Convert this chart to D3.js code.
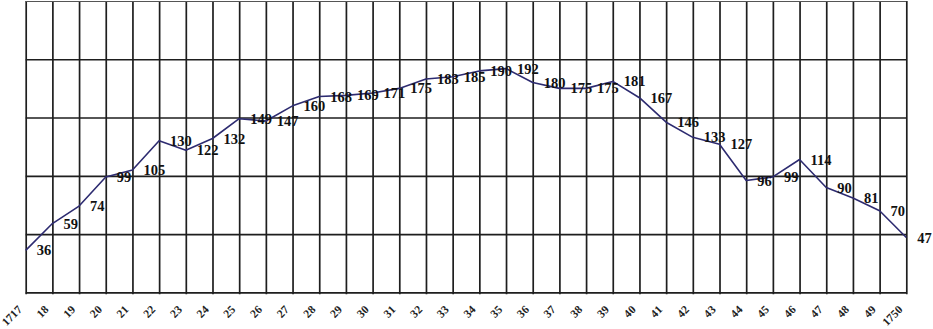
<!DOCTYPE html>
<html>
<head>
<meta charset="utf-8">
<script src="https://cdn.jsdelivr.net/npm/d3@7/dist/d3.min.js"></script>
<style>
  body { margin: 0; background: #fff; }
  svg { display: block; }
</style>
</head>
<body>
<svg id="chart" width="933" height="329"></svg>
<script>
// data
const years = [1717, 1718, 1719, 1720, 1721, 1722, 1723, 1724, 1725, 1726, 1727, 1728,
    1729, 1730, 1731, 1732, 1733, 1734, 1735, 1736, 1737, 1738, 1739, 1740, 1741,
    1742, 1743, 1744, 1745, 1746, 1747, 1748, 1749, 1750];
const tickLabels = ["1717", "18", "19", "20", "21", "22", "23", "24", "25", "26", "27", "28",
    "29", "30", "31", "32", "33", "34", "35", "36", "37", "38", "39", "40", "41",
    "42", "43", "44", "45", "46", "47", "48", "49", "1750"];
const values = [36, 59, 74, 99, 105, 130, 122, 132, 149, 147, 160, 168,
    169, 171, 175, 183, 185, 190, 192, 180, 175, 175, 181, 167, 146,
    133, 127, 96, 99, 114, 90, 81, 70, 47];
const yTicks = [0, 50, 100, 150, 200, 250];

const svg = d3.select("#chart");
const plotLeft = 25.7, plotRight = 906.3, plotTop = 1, plotBottom = 292.3;

// scales
const xScale = d3.scalePoint().domain(years).range([plotLeft, plotRight]);
const yScale = d3.scaleLinear().domain([0, 250]).range([plotBottom, plotTop]);

// vertical grid (one line per year, a bit below the bottom line like ticks)
svg.append("g")
    .attr("class", "grid-x")
    .attr("transform", `translate(0, ${plotBottom})`)
    .call(d3.axisBottom(xScale)
        .tickSize(-(plotBottom - plotTop))
        .tickSizeOuter(0)
        .tickFormat(""))
    .call(g => g.select(".domain").remove())
    .call(g => g.selectAll(".tick line")
        .attr("y1", 2)
        .attr("stroke", "#1e1e1e")
        .attr("stroke-width", 1.7));

// horizontal grid
svg.append("g")
    .attr("class", "grid-y")
    .attr("transform", `translate(${plotLeft}, 0)`)
    .call(d3.axisLeft(yScale)
        .tickValues(yTicks)
        .tickSize(-(plotRight - plotLeft))
        .tickSizeOuter(0)
        .tickFormat(""))
    .call(g => g.select(".domain").remove())
    .call(g => g.selectAll(".tick line")
        .attr("stroke", d => d === 250 ? "#555" : "#1e1e1e")
        .attr("stroke-width", d => d === 250 ? 1 : 1.7));

// year labels, rotated
svg.append("g")
    .selectAll("text")
    .data(years)
    .enter()
    .append("text")
    .attr("transform", d => `translate(${xScale(d) - 3}, ${plotBottom + 18}) rotate(-45)`)
    .attr("text-anchor", "end")
    .attr("font-family", "Liberation Serif, Times New Roman, serif")
    .attr("font-size", 11.5)
    .attr("font-weight", "bold")
    .attr("fill", "#222")
    .text((d, i) => tickLabels[i]);

// the line
const line = d3.line()
    .x((d, i) => xScale(years[i]))
    .y(d => yScale(d));

svg.append("path")
    .datum(values)
    .attr("fill", "none")
    .attr("stroke", "#2d2b70")
    .attr("stroke-width", 1.6)
    .attr("stroke-linejoin", "round")
    .attr("d", line);

// value labels to the right of each point
svg.append("g")
    .selectAll("text")
    .data(values)
    .enter()
    .append("text")
    .attr("x", (d, i) => xScale(years[i]) + 11)
    .attr("y", d => yScale(d))
    .attr("dy", "0.35em")
    .attr("font-family", "Liberation Serif, Times New Roman, serif")
    .attr("font-weight", "bold")
    .attr("font-size", 14.5)
    .attr("fill", "#111")
    .text(d => d);
</script>
</body>
</html>
